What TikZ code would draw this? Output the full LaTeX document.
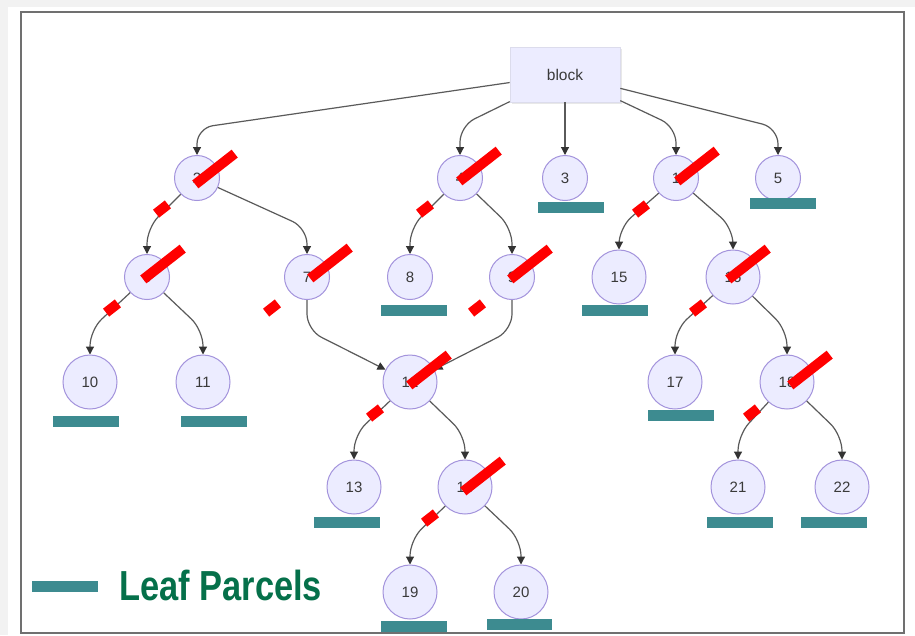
\documentclass[tikz,border=0pt]{standalone}
\usepackage{fontspec}
\setmainfont{Liberation Sans}
\newfontfamily\legendfont[FakeStretch=0.82]{Liberation Sans}
\usetikzlibrary{arrows.meta,calc,shadows}

\definecolor{nodefill}{HTML}{ECECFF}
\definecolor{nodeline}{HTML}{A393DC}
\definecolor{edgecol}{HTML}{5A5A5A}
\definecolor{tipcol}{HTML}{333333}
\definecolor{leafcol}{HTML}{3D8B90}
\definecolor{legendcol}{HTML}{05704A}
\definecolor{framecol}{HTML}{707070}
\definecolor{pagegray}{HTML}{F2F2F2}
\definecolor{textcol}{HTML}{3A3A3A}
\definecolor{cutred}{HTML}{FF0000}

\begin{document}
\begin{tikzpicture}[x=1pt,y=-1pt,
  parcel/.style={circle, fill=nodefill, draw=nodeline, line width=1pt,
    inner sep=0pt, text=textcol, font=\fontsize{15}{18}\selectfont},
  one/.style={parcel, minimum size=45pt},
  two/.style={parcel, minimum size=54pt},
  blockbox/.style={rectangle, fill=nodefill, draw=nodefill!85!gray,
    line width=0.6pt, minimum width=110pt, minimum height=55pt,
    text=textcol, font=\fontsize{15.5}{18}\selectfont,
    drop shadow={shadow xshift=1.5pt, shadow yshift=-2pt, opacity=0.18}},
  edge/.style={draw=edgecol, line width=1.2pt, rounded corners=16pt,
    -{Triangle[length=8pt,width=8pt,color=tipcol]}},
  cutbar/.style={rectangle, fill=cutred, inner sep=0pt,
    minimum width=50pt, minimum height=10pt, rotate=38},
  cuttick/.style={rectangle, fill=cutred, inner sep=0pt,
    minimum width=15pt, minimum height=10pt, rotate=38},
  leafbar/.style={fill=leafcol}
]
\useasboundingbox (0,0) rectangle (915,635);

% page and frame
\fill[pagegray] (0,0) rectangle (915,635);
\fill[white] (8,7) rectangle (915,635);
\draw[framecol, line width=1.5pt] (21,12) rectangle (904,633);

% root
\node[blockbox] (blk) at (565,74.5) {block};

% level 1
\node[one] (A)   at (197,178) {2};
\node[one] (B)   at (460,178) {4};
\node[one] (n3)  at (565,178) {3};
\node[one] (C)   at (676,178) {1};
\node[one] (n5)  at (778,178) {5};

% level 2
\node[one] (L2a) at (147,277) {6};
\node[one] (n7)  at (307,277) {7};
\node[one] (n8)  at (410,277) {8};
\node[one] (n9)  at (512,277) {9};
\node[two] (n15) at (619,277) {15};
\node[two] (n16) at (733,277) {16};

% level 3
\node[two] (n10) at (90,382)  {10};
\node[two] (n11) at (203,382) {11};
\node[two] (n12) at (410,382) {12};
\node[two] (n17) at (675,382) {17};
\node[two] (n18) at (787,382) {18};

% level 4
\node[two] (n13) at (354,487) {13};
\node[two] (n14) at (465,487) {14};
\node[two] (n21) at (738,487) {21};
\node[two] (n22) at (842,487) {22};

% level 5
\node[two] (n19) at (410,592) {19};
\node[two] (n20) at (521,592) {20};

% connectors
\draw[edge] (blk) -- (197,128) -- (A);
\draw[edge] (blk) -- (460,126) -- (B);
\draw[edge] (blk) -- (n3);
\draw[edge] (blk) -- (676,127) -- (C);
\draw[edge] (blk) -- (778,128) -- (n5);

\draw[edge] (A) -- (147,228) -- (L2a);
\draw[edge] (A) -- (307,228) -- (n7);
\draw[edge] (B) -- (410,228) -- (n8);
\draw[edge] (B) -- (512,228) -- (n9);
\draw[edge] (C) -- (619,228) -- (n15);
\draw[edge] (C) -- (733,228) -- (n16);

\draw[edge] (L2a) -- (90,330) -- (n10);
\draw[edge] (L2a) -- (203,330) -- (n11);
\draw[edge] (n7) -- (307,330) -- (n12);
\draw[edge] (n9) -- (512,330) -- (n12);
\draw[edge] (n16) -- (675,330) -- (n17);
\draw[edge] (n16) -- (787,330) -- (n18);

\draw[edge] (n12) -- (354,435) -- (n13);
\draw[edge] (n12) -- (465,435) -- (n14);
\draw[edge] (n18) -- (738,435) -- (n21);
\draw[edge] (n18) -- (842,435) -- (n22);

\draw[edge] (n14) -- (410,540) -- (n19);
\draw[edge] (n14) -- (521,540) -- (n20);

% leaf parcel bars
\fill[leafbar] (538,202) rectangle (604,213);
\fill[leafbar] (750,198) rectangle (816,209);
\fill[leafbar] (381,305) rectangle (447,316);
\fill[leafbar] (582,305) rectangle (648,316);
\fill[leafbar] (53,416) rectangle (119,427);
\fill[leafbar] (181,416) rectangle (247,427);
\fill[leafbar] (648,410) rectangle (714,421);
\fill[leafbar] (314,517) rectangle (380,528);
\fill[leafbar] (707,517) rectangle (773,528);
\fill[leafbar] (801,517) rectangle (867,528);
\fill[leafbar] (381,621) rectangle (447,632);
\fill[leafbar] (487,619) rectangle (552,630);

% cut marks on the split parcels: parcel / bar offset
\foreach \p/\dx/\dy in {A/18/-9, B/19/-12, C/21/-12, L2a/16/-13, n7/23/-14,
                        n9/18/-13, n12/19/-12, n14/18/-11, n16/15/-13, n18/23/-12} {
  \node[cutbar]  (cut\p)  at ($(\p)+(\dx,\dy)$) {};
  \node[cuttick] (tick\p) at ($(\p)+(-35,31)$) {};
}

% legend
\fill[leafbar] (32,581) rectangle (98,592);
\node[anchor=base west, inner sep=0pt, text=legendcol,
  font=\legendfont\bfseries\fontsize{42}{46}\selectfont] (legend) at (119,600) {Leaf Parcels};
\end{tikzpicture}
\end{document}
